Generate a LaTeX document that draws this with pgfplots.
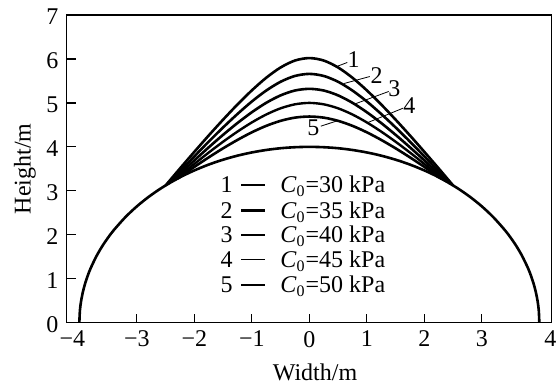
\documentclass[border=0pt]{standalone}
\usepackage{pgfplots}
\pgfplotsset{compat=1.18}
\usepackage{fontspec}
\setmainfont{Liberation Serif}
\begin{document}
\fontsize{12}{14}\selectfont
\begin{tikzpicture}
\begin{axis}[
  scale only axis, width=242.5pt, height=153.85pt,
  xmin=-4.22, xmax=4.215, ymin=0, ymax=7,
  axis line style={line width=0.75pt},
  tick align=inside, xtick pos=left, ytick pos=left,
  major tick length=4.5pt, tick style={line width=0.6pt, black},
  xtick={-3,-2,-1,0,1,2,3}, xticklabels={−3,−2,−1,0,1,2,3},
  extra x ticks={-4.12,4.19}, extra x tick labels={−4,4},
  extra x tick style={major tick length=0pt},
  ytick={0,1,2,3,4,5,6,7}, yticklabels={0,1,2,3,4,5,6,7},
  yticklabel style={yshift=-1pt},
  tick label style={font=\fontsize{12}{14}\selectfont},
  xlabel={Width/m}, ylabel={Height/m},
  label style={font=\fontsize{12}{14}\selectfont},
  xlabel style={at={(axis description cs:0.512,-0.163)},anchor=center},
  ylabel style={at={(axis description cs:-0.086,0.5)},anchor=center},
  clip=false,
]
% base semicircle
\addplot[black, line width=1.3pt, smooth] coordinates {
(-4,0) (-3.99,0.283) (-3.97,0.489) (-3.94,0.690) (-3.9,0.889) (-3.85,1.085) (-3.8,1.249) (-3.7,1.520) (-3.6,1.744) (-3.5,1.936) (-3.4,2.107) (-3.2,2.4) (-3.0,2.646) (-2.8,2.857) (-2.6,3.040) (-2.4,3.2) (-2.2,3.341) (-2.0,3.464) (-1.75,3.597) (-1.5,3.708) (-1.25,3.800) (-1.0,3.873) (-0.75,3.929) (-0.5,3.969) (-0.25,3.992) (0,4)
(0.25,3.992) (0.5,3.969) (0.75,3.929) (1.0,3.873) (1.25,3.800) (1.5,3.708) (1.75,3.597) (2.0,3.464) (2.2,3.341) (2.4,3.2) (2.6,3.040) (2.8,2.857) (3.0,2.646) (3.2,2.4) (3.4,2.107) (3.5,1.936) (3.6,1.744) (3.7,1.520) (3.8,1.249) (3.85,1.085) (3.9,0.889) (3.94,0.690) (3.97,0.489) (3.99,0.283) (4,0)
};
% curve 1
\addplot[black, line width=1.3pt, smooth] coordinates {
(-2.5,3.122) (-2.25,3.508) (-2.0,3.887) (-1.75,4.259) (-1.5,4.619) (-1.25,4.964) (-1.0,5.285) (-0.75,5.572) (-0.5,5.806) (-0.25,5.964) (0,6.02)
(0.25,5.964) (0.5,5.806) (0.75,5.572) (1.0,5.285) (1.25,4.964) (1.5,4.619) (1.75,4.259) (2.0,3.887) (2.25,3.508) (2.5,3.122)
};
% curve 2
\addplot[black, line width=1.3pt, smooth] coordinates {
(-2.45,3.162) (-2.25,3.441) (-2.0,3.784) (-1.75,4.119) (-1.5,4.442) (-1.25,4.748) (-1.0,5.032) (-0.75,5.281) (-0.5,5.481) (-0.25,5.613) (0,5.66)
(0.25,5.613) (0.5,5.481) (0.75,5.281) (1.0,5.032) (1.25,4.748) (1.5,4.442) (1.75,4.119) (2.0,3.784) (2.25,3.441) (2.45,3.162)
};
% curve 3
\addplot[black, line width=1.3pt, smooth] coordinates {
(-2.4,3.2) (-2.25,3.387) (-2.0,3.692) (-1.75,3.989) (-1.5,4.274) (-1.25,4.542) (-1.0,4.788) (-0.75,5.002) (-0.5,5.171) (-0.25,5.282) (0,5.32)
(0.25,5.282) (0.5,5.171) (0.75,5.002) (1.0,4.788) (1.25,4.542) (1.5,4.274) (1.75,3.989) (2.0,3.692) (2.25,3.387) (2.4,3.2)
};
% curve 4
\addplot[black, line width=1.2pt, smooth] coordinates {
(-2.35,3.237) (-2.25,3.346) (-2.0,3.612) (-1.75,3.870) (-1.5,4.117) (-1.25,4.347) (-1.0,4.556) (-0.75,4.736) (-0.5,4.877) (-0.25,4.968) (0,5.0)
(0.25,4.968) (0.5,4.877) (0.75,4.736) (1.0,4.556) (1.25,4.347) (1.5,4.117) (1.75,3.870) (2.0,3.612) (2.25,3.346) (2.35,3.237)
};
% curve 5
\addplot[black, line width=1.3pt, smooth] coordinates {
(-2.3,3.273) (-2.25,3.319) (-2.0,3.544) (-1.75,3.761) (-1.5,3.967) (-1.25,4.158) (-1.0,4.331) (-0.75,4.478) (-0.5,4.592) (-0.25,4.665) (0,4.69)
(0.25,4.665) (0.5,4.592) (0.75,4.478) (1.0,4.331) (1.25,4.158) (1.5,3.967) (1.75,3.761) (2.0,3.544) (2.25,3.319) (2.3,3.273)
};
% curve labels with leaders
\draw[line width=0.4pt] (axis cs:0.48,5.83) -- (axis cs:0.66,5.92);
\node at (axis cs:0.77,5.98) {1};
\draw[line width=0.4pt] (axis cs:0.60,5.44) -- (axis cs:1.05,5.60);
\node at (axis cs:1.17,5.62) {2};
\draw[line width=0.4pt] (axis cs:0.80,4.98) -- (axis cs:1.38,5.26);
\node at (axis cs:1.48,5.32) {3};
\draw[line width=0.4pt] (axis cs:1.03,4.56) -- (axis cs:1.63,4.88);
\node at (axis cs:1.74,4.95) {4};
\draw[line width=0.4pt] (axis cs:0.20,4.47) -- (axis cs:0.50,4.60);
\node at (axis cs:0.07,4.43) {5};
% legend
\node[anchor=base] at (axis cs:-1.44,2.957) {1};
\draw[line width=1.2pt] (axis cs:-1.18,3.137) -- (axis cs:-0.77,3.137);
\node[anchor=base west, inner sep=0pt] at (axis cs:-0.51,2.957) {\textit{C}\textsubscript{0}=30 kPa};
\node[anchor=base] at (axis cs:-1.44,2.372) {2};
\draw[line width=1.2pt] (axis cs:-1.18,2.552) -- (axis cs:-0.77,2.552);
\node[anchor=base west, inner sep=0pt] at (axis cs:-0.51,2.372) {\textit{C}\textsubscript{0}=35 kPa};
\node[anchor=base] at (axis cs:-1.44,1.818) {3};
\draw[line width=1.2pt] (axis cs:-1.18,1.998) -- (axis cs:-0.77,1.998);
\node[anchor=base west, inner sep=0pt] at (axis cs:-0.51,1.818) {\textit{C}\textsubscript{0}=40 kPa};
\node[anchor=base] at (axis cs:-1.44,1.248) {4};
\draw[line width=0.45pt] (axis cs:-1.18,1.428) -- (axis cs:-0.77,1.428);
\node[anchor=base west, inner sep=0pt] at (axis cs:-0.51,1.248) {\textit{C}\textsubscript{0}=45 kPa};
\node[anchor=base] at (axis cs:-1.44,0.679) {5};
\draw[line width=1.2pt] (axis cs:-1.18,0.859) -- (axis cs:-0.77,0.859);
\node[anchor=base west, inner sep=0pt] at (axis cs:-0.51,0.679) {\textit{C}\textsubscript{0}=50 kPa};
\end{axis}
\pgfresetboundingbox
\path ([xshift=-33.35pt,yshift=-31.15pt]current axis.south west) rectangle ([xshift=2.65pt,yshift=7.5pt]current axis.north east);
\end{tikzpicture}
\end{document}
